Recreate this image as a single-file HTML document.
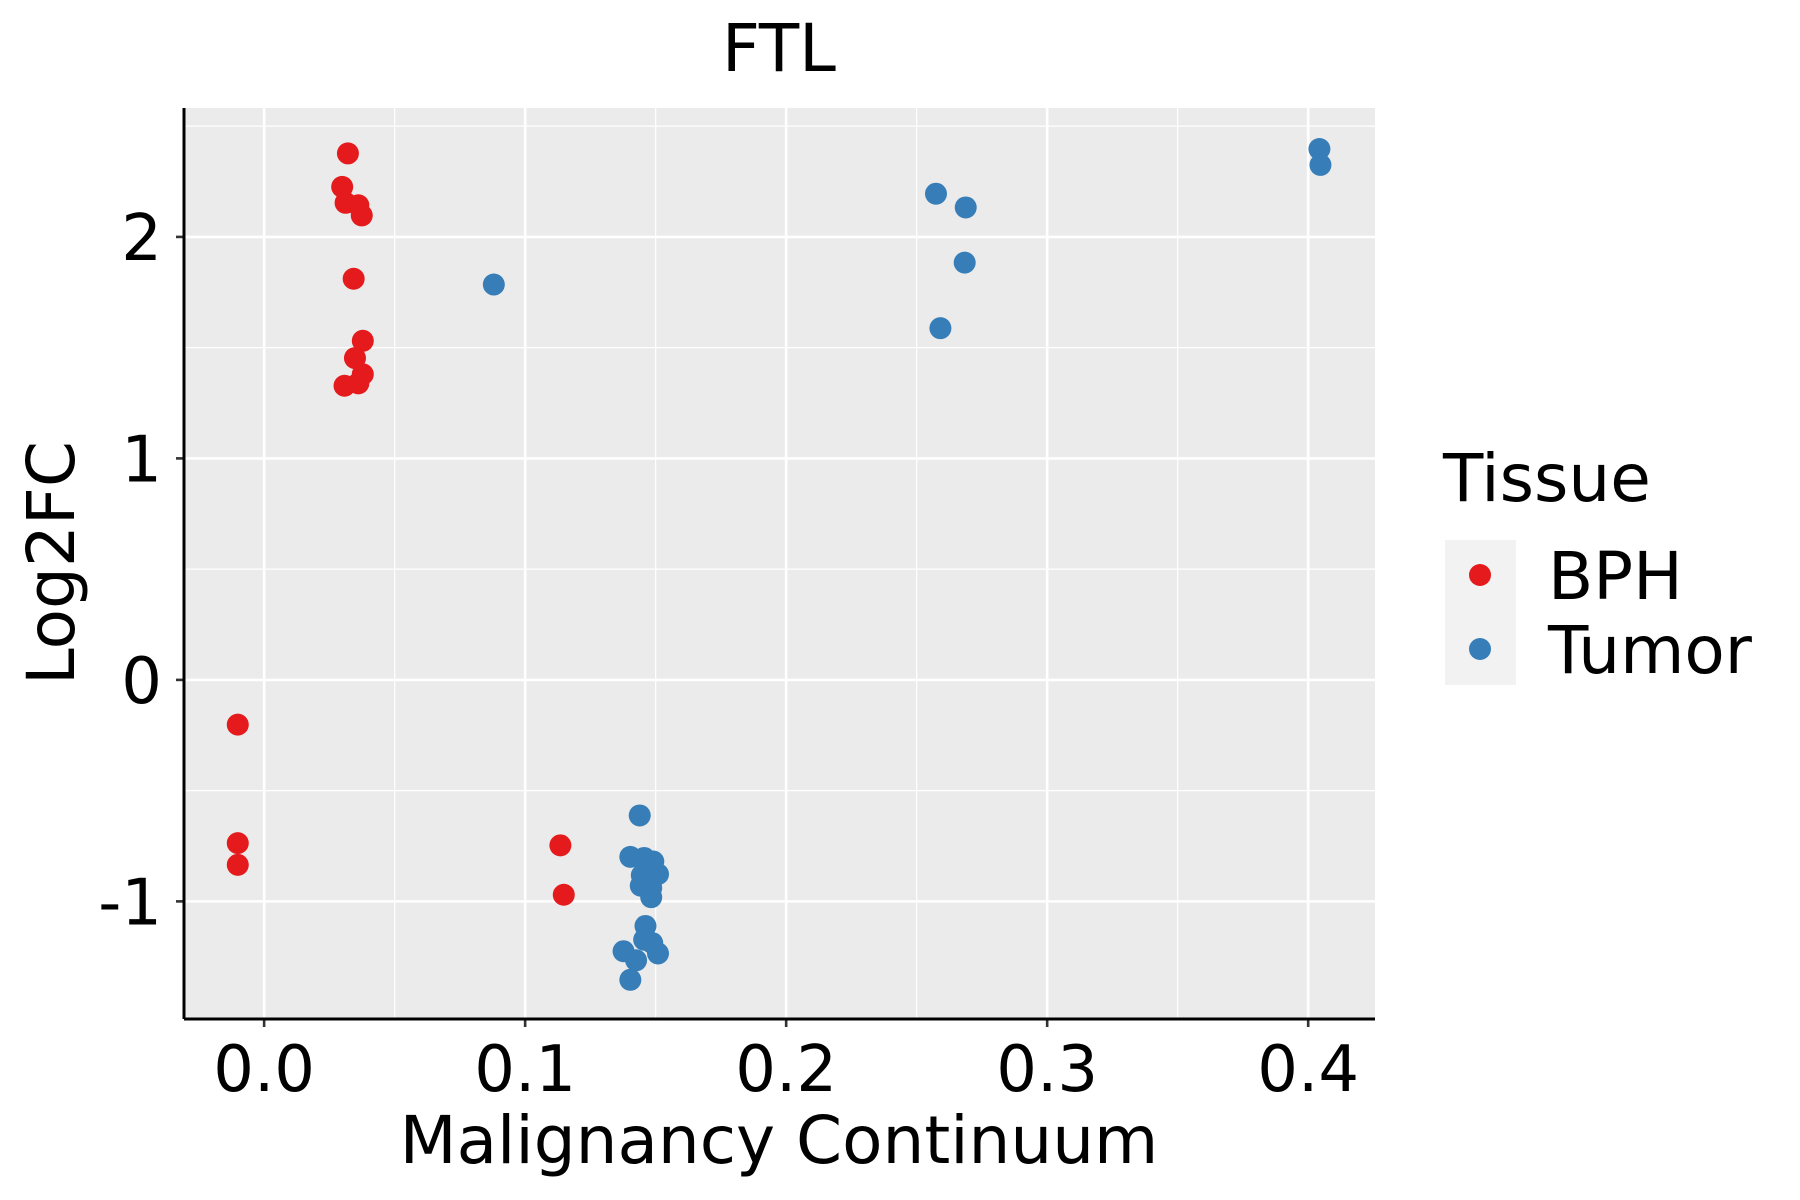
<!DOCTYPE html>
<html><head><meta charset="utf-8"><style>
body{margin:0;background:#fff}
svg{display:block;font-family:"DejaVu Sans","Liberation Sans",sans-serif}
</style></head><body>
<svg id="chart" width="1800" height="1200" viewBox="0 0 1800 1200">
<rect x="184" y="108" width="1191" height="911" fill="#ebebeb"/>
<g id="grid"></g><g id="points"></g><g id="axes"></g>
<text x="779" y="71" font-size="66" text-anchor="middle">FTL</text>
<text x="779" y="1163" font-size="66" text-anchor="middle">Malignancy Continuum</text>
<text transform="translate(74,563) rotate(-90)" font-size="66" text-anchor="middle">Log2FC</text>
<g>
<text x="1443" y="501" font-size="66">Tissue</text>
<rect x="1445" y="540" width="71" height="145" fill="#f2f2f2"/>
<circle cx="1480" cy="575" r="11" fill="#e41a1c"/>
<circle cx="1480" cy="649" r="11" fill="#377eb8"/>
<text x="1548" y="599" font-size="66">BPH</text>
<text x="1548" y="673" font-size="66">Tumor</text>
</g>
</svg>
<script>
const bphX=[0.0321,0.0299,0.0312,0.0361,0.0374,0.0343,0.0378,0.0348,0.0378,0.0361,0.0308,-0.0101,-0.0101,-0.0101,0.1135,0.1148];
const bphY=[2.377,2.226,2.154,2.143,2.097,1.811,1.531,1.453,1.380,1.339,1.328,-0.202,-0.737,-0.835,-0.747,-0.970];
const tumorX=[0.088,0.2574,0.2688,0.2684,0.2591,0.4043,0.4047,0.1439,0.1403,0.1456,0.1491,0.1509,0.1447,0.1483,0.1443,0.1483,0.1461,0.1456,0.1487,0.1509,0.1377,0.1425,0.1403];
const tumorY=[1.785,2.195,2.133,1.884,1.588,2.397,2.325,-0.612,-0.799,-0.804,-0.820,-0.877,-0.882,-0.939,-0.929,-0.981,-1.111,-1.173,-1.188,-1.235,-1.225,-1.266,-1.354];
const xTicks=[0,0.1,0.2,0.3,0.4];
const xTickLabels=["0.0","0.1","0.2","0.3","0.4"];
const yTicks=[-1,0,1,2];
const yTickLabels=["-1","0","1","2"];
const xMinor=[0.05,0.15,0.25,0.35];
const yMinor=[-0.5,0.5,1.5,2.5];
const L=184,R=1375,T=108,B=1019;
const xDom=[-0.0307,0.4256], yDom=[-1.531,2.582];
const sx=v=>L+(v-xDom[0])/(xDom[1]-xDom[0])*(R-L);
const sy=v=>B-(v-yDom[0])/(yDom[1]-yDom[0])*(B-T);
const NS="http://www.w3.org/2000/svg";
function mk(tag,attrs,parent,txt){const e=document.createElementNS(NS,tag);for(const k in attrs)e.setAttribute(k,attrs[k]);if(txt!==undefined)e.textContent=txt;parent.appendChild(e);return e;}
const grid=document.getElementById('grid'),pts=document.getElementById('points'),axes=document.getElementById('axes');
xMinor.forEach(v=>{const e=mk('line',{x1:sx(v),x2:sx(v),y1:T,y2:B,stroke:'#fff','stroke-width':1.2},grid);

});
yMinor.forEach(v=>{const e=mk('line',{x1:L,x2:R,y1:sy(v),y2:sy(v),stroke:'#fff','stroke-width':1.2},grid);

});
xTicks.forEach((v,i)=>{const e=mk('line',{x1:sx(v),x2:sx(v),y1:T,y2:B,stroke:'#fff','stroke-width':2.6},grid);


const t=mk('line',{x1:sx(v),x2:sx(v),y1:B,y2:B+8,stroke:'#333','stroke-width':2.6},axes);


const l=mk('text',{x:sx(v),y:1091,'font-size':64,'text-anchor':'middle',fill:'#000'},axes,xTickLabels[i]);

});
yTicks.forEach((v,i)=>{const e=mk('line',{x1:L,x2:R,y1:sy(v),y2:sy(v),stroke:'#fff','stroke-width':2.6},grid);


const t=mk('line',{x1:L-8,x2:L,y1:sy(v),y2:sy(v),stroke:'#333','stroke-width':2.6},axes);


const l=mk('text',{x:162,y:sy(v)+23,'font-size':64,'text-anchor':'end',fill:'#000'},axes,yTickLabels[i]);

});
const xa=mk('line',{x1:L,x2:R,y1:B,y2:B,stroke:'#000','stroke-width':3},axes);


const ya=mk('line',{x1:L,x2:L,y1:T,y2:B,stroke:'#000','stroke-width':3},axes);


bphX.forEach((v,i)=>{const c=mk('circle',{cx:sx(v),cy:sy(bphY[i]),r:11,fill:'#e41a1c'},pts);

});
tumorX.forEach((v,i)=>{const c=mk('circle',{cx:sx(v),cy:sy(tumorY[i]),r:11,fill:'#377eb8'},pts);

});
</script>
</body></html>
